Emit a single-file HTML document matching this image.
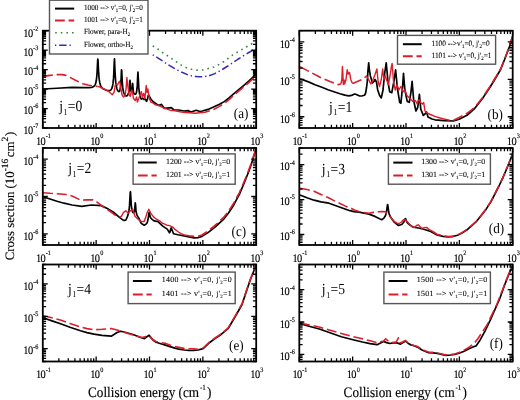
<!DOCTYPE html>
<html><head><meta charset="utf-8"><title>Cross sections</title><style>
html,body{margin:0;padding:0;background:#fff;}
svg{display:block;filter:blur(0.3px);}
text{font-family:"Liberation Serif", serif;fill:#000;text-rendering:geometricPrecision;}
.tl,.xt,.yt{stroke:#000;stroke-width:0.15px;}
.lga,.lgb,.lgc,.lgd,.lge,.lgf{stroke:#000;stroke-width:0.08px;}
.txt{opacity:0.995;}
.tl{font-size:10.4px;letter-spacing:-0.6px;}
.sp{font-size:6.2px;letter-spacing:0;}
.lga{font-size:7.2px;}
.lgb{font-size:7.4px;}
.lgc,.lgd,.lge,.lgf{font-size:7.9px;}
.sb{font-size:4.9px;}
.jl{font-size:13.6px;}
.jsb{font-size:8px;}
.tg{font-size:13.2px;}
.xt{font-size:13.2px;}
.yt{font-size:12.8px;}
.xsp{font-size:7px;}
.ysp{font-size:9.5px;}
</style></head><body>
<svg width="520" height="400" viewBox="0 0 520 400">
<rect width="520" height="400" fill="#fff"/>
<g opacity="0.995">
<clipPath id="cpa"><rect x="42.8" y="30.7" width="213.4" height="97.3"/></clipPath>
<clipPath id="cpb"><rect x="299.3" y="30.7" width="213.4" height="97.3"/></clipPath>
<clipPath id="cpc"><rect x="42.8" y="148" width="213.4" height="97"/></clipPath>
<clipPath id="cpd"><rect x="299.3" y="148" width="213.4" height="97"/></clipPath>
<clipPath id="cpe"><rect x="42.8" y="264.5" width="213.4" height="97"/></clipPath>
<clipPath id="cpf"><rect x="299.3" y="264.5" width="213.4" height="97"/></clipPath>
<g clip-path="url(#cpa)">
<path d="M152.7 45.9 L157.7 49 L162.4 52.4 L167.1 55.5 L172 58.8 L176.6 62 L181.2 65.1 L186 67.6 L191.3 69.3 L196.5 70.2 L202 70 L208 68.6 L214 67 L219.4 64.3 L224 61.5 L230.7 56.3 L236 53 L242 49.5 L248 46 L253.4 42.7 L256 41.3" stroke="#35853f" stroke-width="1.6" fill="none" stroke-linejoin="round" stroke-dasharray="1.6,4.0"/>
<path d="M152.7 54.8 L157.7 57.8 L162.7 61.1 L168 64.6 L175.5 69 L182 72.3 L188.4 75.1 L194 76.4 L200 76.8 L208 76.2 L214.8 73.6 L220.5 70.6 L226.2 67 L231.9 63.3 L237.5 59.5 L243 56 L248.8 52.5 L256 48.6" stroke="#3428b8" stroke-width="1.5" fill="none" stroke-linejoin="round" stroke-dasharray="1.3,2.9,7.4,2.9"/>
<path d="M43 88.98 L57 88.27 L72 87.34 L83 87.67 L88.5 87.65 L91.5 87.33 L92.5 87.07 L93.5 86.65 L94 86.32 L94.5 85.83 L95.25 84.59 L95.75 83.15 L96.25 80.8 L96.75 76.77 L97 73.7 L97.75 58.98 L98 59.76 L98.5 70.52 L99 77.41 L99.25 79.64 L99.75 82.7 L100.5 85.34 L101 86.42 L101.75 87.52 L102.75 88.46 L103.75 89.08 L105.75 89.95 L107.5 90.47 L109 90.64 L110 90.48 L110.5 90.21 L111 89.78 L111.75 88.63 L112.5 86.31 L113 83.44 L113.5 78.38 L113.75 74.45 L114.25 62 L114.5 58.85 L115 71.38 L115.5 79.59 L115.75 82.17 L116.25 85.75 L117 88.93 L117.5 90.27 L117.75 90.7 L118.25 91.29 L118.75 91.55 L119.25 91.44 L119.5 91.11 L120 89.69 L120.5 86.86 L120.75 84.52 L121 80.93 L121.5 69.79 L121.75 70.73 L122.25 81.94 L122.75 87.82 L123.25 90.81 L123.75 92.7 L124.5 94.55 L125 95.45 L125.25 95.62 L126.25 95.96 L126.75 95.98 L127 95.85 L128 94.4 L128.75 92.51 L129 91.34 L129.25 89.38 L129.75 81.13 L130 80.3 L130.5 88.4 L130.75 90.2 L131 91.04 L131.25 91.5 L131.5 91.55 L131.75 91.12 L132 89.92 L132.5 83.33 L132.75 84.08 L133.25 90.8 L133.5 92.19 L133.75 93 L134.25 93.83 L134.75 94.17 L135 94.22 L135.5 94.12 L136 93.58 L136.5 92.16 L137 88.73 L137.25 85.64 L137.75 74.9 L138 72.2 L138.75 87.16 L139.25 91.84 L140 96.27 L140.75 98.13 L141.25 98.96 L141.5 99.12 L142.75 98.06 L144 99.57 L145.25 98.96 L146.5 101.29 L146.75 101.06 L147.5 98.92 L148.25 95.51 L148.5 94.97 L151 99.23 L153.25 101.74 L158 105.18 L159.75 105.21 L161.5 104.37 L164.25 108.26 L164.5 108.46 L171.25 107.58 L173.75 109.74 L178.75 109.98 L184 110.99 L188 110.62 L191 112.01 L196.25 110.28 L200 111.46 L202.25 111.03 L208 109.41 L219 104.56 L224.25 101.63 L229 97.98 L234.5 93.11 L244.75 84.56 L249 80.8 L253 77.09 L256 73.6" stroke="#000" stroke-width="1.7" fill="none" stroke-linejoin="round"/>
<path d="M43 76.6 L48 75.6 L53 74.9 L58 74.5 L62 74.6 L66 75.4 L70 77.4 L75 80 L79.5 82.2 L83 83.7 L88 85 L93.8 86 L97.5 86.4" stroke="#dc1c2a" stroke-width="1.6" fill="none" stroke-linejoin="round" stroke-dasharray="10,3.8"/>
<path d="M97.5 86.4 L100 87 L103 88.5 L106 90 L109 91.5 L110 92.8 L112.25 94.75 L114.1 92.1 L115.25 85 L116.4 83.9 L117.5 85 L118.6 82.75 L119.4 81.25 L120.1 83.5 L120.9 88.75 L122 94.75 L123.5 97 L125 95.5 L126.1 88.75 L126.9 77.5 L127.6 85 L128.4 89.5 L129.1 94.75 L130.25 96.25 L131.75 90 L132.9 94.75 L133.5 98.6 L135.25 100.4 L136.6 96.9 L137.4 102.1 L138.75 98.6 L140 95.1 L141.4 91.6 L142.25 96.9 L143.6 93.4 L144.9 98.6 L146.2 85.5 L147.1 92.5 L147.9 89 L148.8 95.1 L149.7 99.5 L151 102.1 L152.75 103 L155 104.5 L160 106.2 L164 108.2 L167 109.2 L170 110.2 L175 110.8 L180 111.7 L185 112.6 L190 112.8 L195 113.2 L200 112.8" stroke="#dc1c2a" stroke-width="1.4" fill="none" stroke-linejoin="round"/>
<path d="M200 112.8 L205 112.2 L210 110.7 L214 109.2 L219 106.6 L224 103.6 L229 99.6 L234 95 L239 90.8 L244.6 86.2 L249 82.3 L253 78.6 L256 75.4" stroke="#dc1c2a" stroke-width="1.6" fill="none" stroke-linejoin="round" stroke-dasharray="10,3.8"/>
</g>
<g clip-path="url(#cpb)">
<path d="M300 78.8 L308.5 81.9 L315 84.7 L321.9 87.3 L328 89.7 L335.4 92.2 L340 93.7 L344.8 95.1 L348.8 95.8 L351.5 95.4 L353.5 94.4 L354.9 94 L356.9 94.7 L359.6 96 L362.3 95.8 L364.5 95.2 L365.5 93.5 L366.5 88 L367.3 81.3 L368 70 L368.7 62.9 L369.4 70 L370.4 76 L372.5 83 L374 81.5 L375.1 79.5 L376.5 82 L377.7 90 L379.5 95.3 L381.3 97.9 L383 90 L384.8 72.5 L386.2 62.9 L387.1 72 L387.9 81.3 L389.7 91.8 L391.8 92.6 L393.9 81.3 L395.6 69.9 L396.5 79 L397.4 88.3 L399.7 102.3 L400.9 103.2 L402.6 86.5 L403.5 73.4 L404.2 82 L404.9 90 L407.2 101.4 L409.3 102.3 L411 91.8 L412.1 81.3 L412.9 91 L413.7 100.5 L415.9 111 L417.7 107.5 L419.4 94.4 L420.1 102 L420.8 109.3 L423.3 115.4 L425 114 L426.5 112 L428 117 L432 119 L435 119.8 L443.8 120.6 L453.5 121 L459.2 119.2 L467 115.3 L474.6 108.5 L482.3 98.8 L490 87.3 L495.8 77.7 L500.6 69.5 L505 58.5 L509.5 46.5 L511.7 39.5 L513.5 34" stroke="#000" stroke-width="1.7" fill="none" stroke-linejoin="round"/>
<path d="M300 66.8 L305 69.4 L311 72.5 L320 77.3 L330 81.6 L338 84.6 L340.8 84" stroke="#dc1c2a" stroke-width="1.6" fill="none" stroke-linejoin="round" stroke-dasharray="10,3.8"/>
<path d="M340.8 84 L341.8 80 L342.4 66.5 L342.9 74 L343.3 84.5 L344.1 80 L344.6 84 L345.9 80 L347.2 69.8 L348.2 74 L349.5 72.5 L350.9 80 L352.2 83" stroke="#dc1c2a" stroke-width="1.4" fill="none" stroke-linejoin="round"/>
<path d="M352.2 83 L353.5 83.3 L356.2 81.9 L359.6 80.6 L362 79.5 L364.6 77.8" stroke="#dc1c2a" stroke-width="1.6" fill="none" stroke-linejoin="round" stroke-dasharray="10,3.8"/>
<path d="M364.6 77.8 L366.4 76 L368.1 78.6 L370.8 83.9 L372.5 81.3 L375.1 74.3 L376.9 69 L378.1 81.3 L379.5 86.5 L381.3 79.5 L382.7 69 L383.9 79.5 L385.1 76 L386.5 79.5 L388.3 84.8 L390 76 L391.2 68 L392.1 63.4 L392.8 72 L393.5 81.3 L395.3 90 L397 84.8 L398.8 90 L400.9 86.5 L403.2 91.8 L404.9 90 L406.7 95.3 L408.4 97 L410.2 98.8 L412.8 101.4 L415.4 100.5 L417.2 104 L418.5 100 L419.8 100.5 L421 103 L422.4 104 L423.7 102.5 L424.2 105.8 L425 111 L426.8 112.8 L430.3 114.5 L435 116.3 L440 118" stroke="#dc1c2a" stroke-width="1.4" fill="none" stroke-linejoin="round"/>
<path d="M440 118 L443.8 119 L449.6 120.2 L453.5 120.3 L459.2 117.5 L467 113.3 L474.6 107.5 L482.3 98 L490 86.5 L495.8 77 L500.6 69 L505 58 L509.5 46 L511.7 39 L513.5 33.5" stroke="#dc1c2a" stroke-width="1.6" fill="none" stroke-linejoin="round" stroke-dasharray="10,3.8"/>
</g>
<g clip-path="url(#cpc)">
<path d="M43 196.7 L57 201.2 L64 203.2 L72 205 L81.75 206.29 L91.5 204.99 L101.25 205.61 L107.25 208.45 L113.5 212.25 L119.75 217.66 L123.5 220.36 L124 220.33 L125.75 220.06 L126.5 218.63 L127.5 216.31 L128 214.86 L128.5 212.99 L129 210.39 L129.5 205.88 L130.25 192.35 L130.5 191.74 L131.25 204.73 L131.75 209.01 L132.25 211.07 L132.75 212.14 L133.25 212.65 L133.5 212.73 L133.75 212.66 L134 212.39 L134.25 211.83 L134.5 210.74 L134.75 208.76 L135.25 202.92 L135.5 204.36 L136 210.68 L136.25 212.37 L136.75 214.32 L137.25 215.59 L138 216.96 L138.75 218.09 L141.25 223.36 L142.25 224.06 L144.25 225.26 L146 224.09 L147 223.02 L147.5 221.53 L148 219.53 L149 212.9 L149.25 212.26 L150.25 216.89 L150.75 217.96 L151.75 219.02 L152.75 219.92 L154.25 220.94 L158 221.67 L158.25 221.83 L162.75 226.16 L167.25 229.11 L169.5 232.87 L169.75 232.53 L171 228.33 L171.25 227.79 L173.5 233.75 L178 234.76 L194 237.94 L198 237.58 L202 236.38 L208 232.59 L213.75 228.13 L218.5 223.99 L223.75 219.1 L228.5 213 L233.25 205.83 L236.5 199.6 L239.25 194.69 L243.5 184.65 L248.75 171.48 L251 165.2 L256 149.1" stroke="#000" stroke-width="1.7" fill="none" stroke-linejoin="round"/>
<path d="M43 192.7 L50 193.3 L57 193.7 L66 194.5 L72 196 L77 198.4 L81 200.3 L87 199.7 L93 199.9 L97.3 202.3 L104.2 207.7 L110.4 211.5 L116.5 216.2 L121.2 216.9" stroke="#dc1c2a" stroke-width="1.6" fill="none" stroke-linejoin="round" stroke-dasharray="10,3.8"/>
<path d="M121.2 216.9 L123.5 212.3 L125.8 210.8 L128.1 213.1 L130.4 210.8 L132.7 209.2 L135 216.2 L138.1 219.2 L141.2 221.5 L144.2 221.5 L145.8 216.9 L147.3 212.3 L148.8 209.2 L150.7 213.1 L153.5 216.9 L156.5 219.2 L159.6 220.8 L162 223 L164.2 223.8 L166.8 225.2 L168.8 225.4 L170.7 226.2 L173.5 227.7 L174.6 229.1 L178.5 232 L181 233.6 L184.4 235" stroke="#dc1c2a" stroke-width="1.4" fill="none" stroke-linejoin="round"/>
<path d="M184.4 235 L189 235.8 L194.2 236.4 L198 236.2 L202 235 L208 231 L213.8 226.4 L218.5 222.2 L223.6 217.4 L228.5 211.2 L233.4 203.8 L236.5 198 L239.3 192.8 L243.4 183.4 L246 177 L248.9 169.6 L251 164 L253 157.8 L256 148.3" stroke="#dc1c2a" stroke-width="1.6" fill="none" stroke-linejoin="round" stroke-dasharray="10,3.8"/>
</g>
<g clip-path="url(#cpd)">
<path d="M300 195 L307 197.8 L314 200.2 L321 201.8 L329 203.2 L345 209 L350 210.69 L354 211.59 L359 212.19 L369 214.17 L375 216.42 L379.5 218.77 L381.75 219.73 L383.25 218.58 L384.25 217.6 L385 216.5 L385.5 215.45 L386 213.93 L386.5 211.67 L387.5 204.64 L387.75 204.78 L388.5 210.39 L389 213.21 L389.5 214.96 L390 216.09 L392 219.14 L394.5 222.39 L398.5 225.49 L401.5 224.54 L402.25 223.84 L403 223.02 L404 221.63 L405 219.17 L405.25 218.67 L405.5 218.62 L406.75 221.7 L407.75 223.15 L408.5 223.85 L410 225.02 L413 227.15 L418.5 228.03 L424.5 229.53 L430.75 231.55 L437 234.99 L443 236.38 L448 236.88 L452 236.68 L457.5 235.29 L462 232.99 L467 229.79 L476.5 221.3 L481 215.8 L486 209.4 L491 201.6 L499 186 L502.5 178.71 L508.5 164.53 L513.5 151.5" stroke="#000" stroke-width="1.7" fill="none" stroke-linejoin="round"/>
<path d="M300 188.2 L307 189.5 L314 191.2 L321 194.4 L329 198 L334 200.6 L339.5 203.2 L345 205.9 L351.5 208.5 L355 210.2 L359 211.5 L364 212.6 L369 213.3 L373.5 212.4 L378 211.7 L382 211.6 L385.5 211.7 L389.2 215.7" stroke="#dc1c2a" stroke-width="1.6" fill="none" stroke-linejoin="round" stroke-dasharray="10,3.8"/>
<path d="M389.2 215.7 L392 219 L394.5 221.7 L397 223.2 L399 223.5 L401.5 222 L403.5 219.8 L405.5 220 L408 222.5 L410 224.8 L412.5 227 L414.8 227.2 L416.5 225.5 L418.3 224.8 L420 226.5 L421.9 228.4 L424 227.6 L426.6 227.4 L429 229.4 L432 231" stroke="#dc1c2a" stroke-width="1.4" fill="none" stroke-linejoin="round"/>
<path d="M432 231 L436.9 234.2 L443 235.9 L448 236.5 L452 236.4 L457.5 234.9 L462 232.7 L467 229.4 L471.5 225.5 L476.5 221 L481 215.5 L486 209 L491 201.2 L495.5 192.4 L499 185.6 L502.6 178 L505.5 171 L508.6 164 L511 157.5 L513.5 151" stroke="#dc1c2a" stroke-width="1.6" fill="none" stroke-linejoin="round" stroke-dasharray="10,3.8"/>
</g>
<g clip-path="url(#cpe)">
<path d="M43 317.7 L52 320.9 L61.2 324 L70 327.3 L80.5 330.8 L87 332.6 L94 334.2 L102 335.3 L111.2 336.2 L114 334.5 L117 332.5 L120.8 331.2 L125 332.3 L130.5 333.7 L135 335.2 L140 337.2 L144.4 338.7 L146.5 337 L149.1 335.2 L151 337.6 L153 340 L156.1 342.3 L160 343.5 L165.5 345.1 L170 346.6 L174.9 348.1 L179 349.2 L184.3 350 L189 350.4 L193.7 350.5 L198 350 L203.1 348.6 L210 342.2 L215 338.6 L220 335.3 L225 331.2 L228 328.7 L232 322 L237 313.5 L242 304.5 L244.5 297 L247 289.5 L250 280.75 L252.3 274.8 L254.4 269.5 L256 265" stroke="#000" stroke-width="1.7" fill="none" stroke-linejoin="round"/>
<path d="M43 315.8 L52 317.8 L61.2 320.2 L70 323.4 L80.5 327 L87 328.6 L94 329.8 L102 329.3 L111.2 328.5 L116 329.7 L120.8 331.2 L125.5 332.7 L130.5 334.2 L136 335.8 L142 337.5 L146 336.6 L149 336 L152 339 L156 341.5 L160 342.4 L165.5 343.4 L170 345 L174.9 346.5 L180 347.6 L184 348.4 L189 348.7 L193.7 348.9 L198 349.4 L203.1 348 L210 341.6 L215 338 L220 334.7 L225 330.6 L228 328.1 L232 321.4 L237 312.9 L242 303.9 L244.5 296.4 L247 288.9 L250 280.15 L252.3 274.2 L254.4 268.9 L256 264.4" stroke="#dc1c2a" stroke-width="1.6" fill="none" stroke-linejoin="round" stroke-dasharray="10,3.8"/>
</g>
<g clip-path="url(#cpf)">
<path d="M300 323.6 L310 326.5 L320.1 329.3 L330 332.8 L341.3 336.7 L352 339.5 L362.4 342 L370 343.6 L377.2 344.7 L380.5 343 L383.6 341.4 L386.5 342.6 L389.9 343.5 L393 342.8 L396.3 342.6 L400.5 344.1 L403 342.5 L405.5 341.2 L408 343.2 L411 345 L414 345.8 L417.5 347.1 L422 350 L425 351.3 L428.5 352.6 L433 352.8 L437.3 353.3 L441.5 354.3 L446 355.3 L450.5 355 L454.8 354.4 L459 353.2 L463.6 351.5 L469 348.8 L474.6 346.3 L476 346 L480 340.2 L485 331.2 L490 320.7 L495 309.4 L500 298 L503.8 287.2 L506.25 280.75 L508.5 275.2 L510.6 270.1 L513.5 264" stroke="#000" stroke-width="1.7" fill="none" stroke-linejoin="round"/>
<path d="M300 323 L310 325 L320 327.2 L330 330.2 L341.3 333.5 L352 336.4 L362.4 338.8 L370 340.8 L377.2 342.6 L380.5 341.8 L383.6 341 L385.7 338.8 L388 340.8 L391 342.5 L394 342.2 L396.3 342 L398.4 337.8 L400.5 343 L403 341.8 L405.5 340.5 L408 342.8 L411 344.5 L414 345.5 L417.5 346.5 L422 349.5 L425 350.8 L428.5 352 L433 352.4 L437.3 353 L441.5 354 L446 355 L450.5 354.7 L454.8 354 L459 352.5 L463.6 350.5 L470 346.7 L475 342.2 L478 338.5 L482 332.5 L487 325 L492 314.5 L497 304 L501.25 293 L503.8 286.5 L506.25 280 L508.5 274.6 L510.6 269.5 L513.5 263.5" stroke="#dc1c2a" stroke-width="1.6" fill="none" stroke-linejoin="round" stroke-dasharray="10,3.8"/>
</g>
<path d="M42.8 128v-5M42.8 30.7v5M58.86 128v-3.3M58.86 30.7v3.3M68.25 128v-3.3M68.25 30.7v3.3M74.92 128v-3.3M74.92 30.7v3.3M80.09 128v-3.3M80.09 30.7v3.3M84.31 128v-3.3M84.31 30.7v3.3M87.89 128v-3.3M87.89 30.7v3.3M90.98 128v-3.3M90.98 30.7v3.3M93.71 128v-3.3M93.71 30.7v3.3M96.15 128v-5M96.15 30.7v5M112.21 128v-3.3M112.21 30.7v3.3M121.6 128v-3.3M121.6 30.7v3.3M128.27 128v-3.3M128.27 30.7v3.3M133.44 128v-3.3M133.44 30.7v3.3M137.66 128v-3.3M137.66 30.7v3.3M141.24 128v-3.3M141.24 30.7v3.3M144.33 128v-3.3M144.33 30.7v3.3M147.06 128v-3.3M147.06 30.7v3.3M149.5 128v-5M149.5 30.7v5M165.56 128v-3.3M165.56 30.7v3.3M174.95 128v-3.3M174.95 30.7v3.3M181.62 128v-3.3M181.62 30.7v3.3M186.79 128v-3.3M186.79 30.7v3.3M191.01 128v-3.3M191.01 30.7v3.3M194.59 128v-3.3M194.59 30.7v3.3M197.68 128v-3.3M197.68 30.7v3.3M200.41 128v-3.3M200.41 30.7v3.3M202.85 128v-5M202.85 30.7v5M218.91 128v-3.3M218.91 30.7v3.3M228.3 128v-3.3M228.3 30.7v3.3M234.97 128v-3.3M234.97 30.7v3.3M240.14 128v-3.3M240.14 30.7v3.3M244.36 128v-3.3M244.36 30.7v3.3M247.94 128v-3.3M247.94 30.7v3.3M251.03 128v-3.3M251.03 30.7v3.3M253.76 128v-3.3M253.76 30.7v3.3M256.2 128v-5M256.2 30.7v5M42.8 128h5M256.2 128h-5M42.8 122.14h3.3M256.2 122.14h-3.3M42.8 118.72h3.3M256.2 118.72h-3.3M42.8 116.28h3.3M256.2 116.28h-3.3M42.8 114.4h3.3M256.2 114.4h-3.3M42.8 112.86h3.3M256.2 112.86h-3.3M42.8 111.55h3.3M256.2 111.55h-3.3M42.8 110.43h3.3M256.2 110.43h-3.3M42.8 109.43h3.3M256.2 109.43h-3.3M42.8 108.54h5M256.2 108.54h-5M42.8 102.68h3.3M256.2 102.68h-3.3M42.8 99.26h3.3M256.2 99.26h-3.3M42.8 96.82h3.3M256.2 96.82h-3.3M42.8 94.94h3.3M256.2 94.94h-3.3M42.8 93.4h3.3M256.2 93.4h-3.3M42.8 92.09h3.3M256.2 92.09h-3.3M42.8 90.97h3.3M256.2 90.97h-3.3M42.8 89.97h3.3M256.2 89.97h-3.3M42.8 89.08h5M256.2 89.08h-5M42.8 83.22h3.3M256.2 83.22h-3.3M42.8 79.8h3.3M256.2 79.8h-3.3M42.8 77.36h3.3M256.2 77.36h-3.3M42.8 75.48h3.3M256.2 75.48h-3.3M42.8 73.94h3.3M256.2 73.94h-3.3M42.8 72.63h3.3M256.2 72.63h-3.3M42.8 71.51h3.3M256.2 71.51h-3.3M42.8 70.51h3.3M256.2 70.51h-3.3M42.8 69.62h5M256.2 69.62h-5M42.8 63.76h3.3M256.2 63.76h-3.3M42.8 60.34h3.3M256.2 60.34h-3.3M42.8 57.9h3.3M256.2 57.9h-3.3M42.8 56.02h3.3M256.2 56.02h-3.3M42.8 54.48h3.3M256.2 54.48h-3.3M42.8 53.17h3.3M256.2 53.17h-3.3M42.8 52.05h3.3M256.2 52.05h-3.3M42.8 51.05h3.3M256.2 51.05h-3.3M42.8 50.16h5M256.2 50.16h-5M42.8 44.3h3.3M256.2 44.3h-3.3M42.8 40.88h3.3M256.2 40.88h-3.3M42.8 38.44h3.3M256.2 38.44h-3.3M42.8 36.56h3.3M256.2 36.56h-3.3M42.8 35.02h3.3M256.2 35.02h-3.3M42.8 33.71h3.3M256.2 33.71h-3.3M42.8 32.59h3.3M256.2 32.59h-3.3M42.8 31.59h3.3M256.2 31.59h-3.3M42.8 30.7h5M256.2 30.7h-5" stroke="#000" stroke-width="1.3" fill="none"/>
<rect x="42.8" y="30.7" width="213.4" height="97.3" fill="none" stroke="#000" stroke-width="1.8"/>
<path d="M299.3 128v-5M299.3 30.7v5M315.36 128v-3.3M315.36 30.7v3.3M324.75 128v-3.3M324.75 30.7v3.3M331.42 128v-3.3M331.42 30.7v3.3M336.59 128v-3.3M336.59 30.7v3.3M340.81 128v-3.3M340.81 30.7v3.3M344.39 128v-3.3M344.39 30.7v3.3M347.48 128v-3.3M347.48 30.7v3.3M350.21 128v-3.3M350.21 30.7v3.3M352.65 128v-5M352.65 30.7v5M368.71 128v-3.3M368.71 30.7v3.3M378.1 128v-3.3M378.1 30.7v3.3M384.77 128v-3.3M384.77 30.7v3.3M389.94 128v-3.3M389.94 30.7v3.3M394.16 128v-3.3M394.16 30.7v3.3M397.74 128v-3.3M397.74 30.7v3.3M400.83 128v-3.3M400.83 30.7v3.3M403.56 128v-3.3M403.56 30.7v3.3M406 128v-5M406 30.7v5M422.06 128v-3.3M422.06 30.7v3.3M431.45 128v-3.3M431.45 30.7v3.3M438.12 128v-3.3M438.12 30.7v3.3M443.29 128v-3.3M443.29 30.7v3.3M447.51 128v-3.3M447.51 30.7v3.3M451.09 128v-3.3M451.09 30.7v3.3M454.18 128v-3.3M454.18 30.7v3.3M456.91 128v-3.3M456.91 30.7v3.3M459.35 128v-5M459.35 30.7v5M475.41 128v-3.3M475.41 30.7v3.3M484.8 128v-3.3M484.8 30.7v3.3M491.47 128v-3.3M491.47 30.7v3.3M496.64 128v-3.3M496.64 30.7v3.3M500.86 128v-3.3M500.86 30.7v3.3M504.44 128v-3.3M504.44 30.7v3.3M507.53 128v-3.3M507.53 30.7v3.3M510.26 128v-3.3M510.26 30.7v3.3M512.7 128v-5M512.7 30.7v5M299.3 128h3.3M512.7 128h-3.3M299.3 125.04h3.3M512.7 125.04h-3.3M299.3 122.54h3.3M512.7 122.54h-3.3M299.3 120.37h3.3M512.7 120.37h-3.3M299.3 118.45h3.3M512.7 118.45h-3.3M299.3 116.74h5M512.7 116.74h-5M299.3 105.49h3.3M512.7 105.49h-3.3M299.3 98.9h3.3M512.7 98.9h-3.3M299.3 94.23h3.3M512.7 94.23h-3.3M299.3 90.61h3.3M512.7 90.61h-3.3M299.3 87.65h3.3M512.7 87.65h-3.3M299.3 85.14h3.3M512.7 85.14h-3.3M299.3 82.97h3.3M512.7 82.97h-3.3M299.3 81.06h3.3M512.7 81.06h-3.3M299.3 79.35h5M512.7 79.35h-5M299.3 68.09h3.3M512.7 68.09h-3.3M299.3 61.51h3.3M512.7 61.51h-3.3M299.3 56.84h3.3M512.7 56.84h-3.3M299.3 53.21h3.3M512.7 53.21h-3.3M299.3 50.25h3.3M512.7 50.25h-3.3M299.3 47.75h3.3M512.7 47.75h-3.3M299.3 45.58h3.3M512.7 45.58h-3.3M299.3 43.67h3.3M512.7 43.67h-3.3M299.3 41.96h5M512.7 41.96h-5M299.3 30.7h3.3M512.7 30.7h-3.3" stroke="#000" stroke-width="1.3" fill="none"/>
<rect x="299.3" y="30.7" width="213.4" height="97.3" fill="none" stroke="#000" stroke-width="1.8"/>
<path d="M42.8 245v-5M42.8 148v5M58.86 245v-3.3M58.86 148v3.3M68.25 245v-3.3M68.25 148v3.3M74.92 245v-3.3M74.92 148v3.3M80.09 245v-3.3M80.09 148v3.3M84.31 245v-3.3M84.31 148v3.3M87.89 245v-3.3M87.89 148v3.3M90.98 245v-3.3M90.98 148v3.3M93.71 245v-3.3M93.71 148v3.3M96.15 245v-5M96.15 148v5M112.21 245v-3.3M112.21 148v3.3M121.6 245v-3.3M121.6 148v3.3M128.27 245v-3.3M128.27 148v3.3M133.44 245v-3.3M133.44 148v3.3M137.66 245v-3.3M137.66 148v3.3M141.24 245v-3.3M141.24 148v3.3M144.33 245v-3.3M144.33 148v3.3M147.06 245v-3.3M147.06 148v3.3M149.5 245v-5M149.5 148v5M165.56 245v-3.3M165.56 148v3.3M174.95 245v-3.3M174.95 148v3.3M181.62 245v-3.3M181.62 148v3.3M186.79 245v-3.3M186.79 148v3.3M191.01 245v-3.3M191.01 148v3.3M194.59 245v-3.3M194.59 148v3.3M197.68 245v-3.3M197.68 148v3.3M200.41 245v-3.3M200.41 148v3.3M202.85 245v-5M202.85 148v5M218.91 245v-3.3M218.91 148v3.3M228.3 245v-3.3M228.3 148v3.3M234.97 245v-3.3M234.97 148v3.3M240.14 245v-3.3M240.14 148v3.3M244.36 245v-3.3M244.36 148v3.3M247.94 245v-3.3M247.94 148v3.3M251.03 245v-3.3M251.03 148v3.3M253.76 245v-3.3M253.76 148v3.3M256.2 245v-5M256.2 148v5M42.8 245h3.3M256.2 245h-3.3M42.8 242.05h3.3M256.2 242.05h-3.3M42.8 239.55h3.3M256.2 239.55h-3.3M42.8 237.39h3.3M256.2 237.39h-3.3M42.8 235.48h3.3M256.2 235.48h-3.3M42.8 233.78h5M256.2 233.78h-5M42.8 222.56h3.3M256.2 222.56h-3.3M42.8 215.99h3.3M256.2 215.99h-3.3M42.8 211.33h3.3M256.2 211.33h-3.3M42.8 207.72h3.3M256.2 207.72h-3.3M42.8 204.77h3.3M256.2 204.77h-3.3M42.8 202.27h3.3M256.2 202.27h-3.3M42.8 200.11h3.3M256.2 200.11h-3.3M42.8 198.21h3.3M256.2 198.21h-3.3M42.8 196.5h5M256.2 196.5h-5M42.8 185.28h3.3M256.2 185.28h-3.3M42.8 178.71h3.3M256.2 178.71h-3.3M42.8 174.06h3.3M256.2 174.06h-3.3M42.8 170.44h3.3M256.2 170.44h-3.3M42.8 167.49h3.3M256.2 167.49h-3.3M42.8 165h3.3M256.2 165h-3.3M42.8 162.83h3.3M256.2 162.83h-3.3M42.8 160.93h3.3M256.2 160.93h-3.3M42.8 159.22h5M256.2 159.22h-5M42.8 148h3.3M256.2 148h-3.3" stroke="#000" stroke-width="1.3" fill="none"/>
<rect x="42.8" y="148" width="213.4" height="97" fill="none" stroke="#000" stroke-width="1.8"/>
<path d="M299.3 245v-5M299.3 148v5M315.36 245v-3.3M315.36 148v3.3M324.75 245v-3.3M324.75 148v3.3M331.42 245v-3.3M331.42 148v3.3M336.59 245v-3.3M336.59 148v3.3M340.81 245v-3.3M340.81 148v3.3M344.39 245v-3.3M344.39 148v3.3M347.48 245v-3.3M347.48 148v3.3M350.21 245v-3.3M350.21 148v3.3M352.65 245v-5M352.65 148v5M368.71 245v-3.3M368.71 148v3.3M378.1 245v-3.3M378.1 148v3.3M384.77 245v-3.3M384.77 148v3.3M389.94 245v-3.3M389.94 148v3.3M394.16 245v-3.3M394.16 148v3.3M397.74 245v-3.3M397.74 148v3.3M400.83 245v-3.3M400.83 148v3.3M403.56 245v-3.3M403.56 148v3.3M406 245v-5M406 148v5M422.06 245v-3.3M422.06 148v3.3M431.45 245v-3.3M431.45 148v3.3M438.12 245v-3.3M438.12 148v3.3M443.29 245v-3.3M443.29 148v3.3M447.51 245v-3.3M447.51 148v3.3M451.09 245v-3.3M451.09 148v3.3M454.18 245v-3.3M454.18 148v3.3M456.91 245v-3.3M456.91 148v3.3M459.35 245v-5M459.35 148v5M475.41 245v-3.3M475.41 148v3.3M484.8 245v-3.3M484.8 148v3.3M491.47 245v-3.3M491.47 148v3.3M496.64 245v-3.3M496.64 148v3.3M500.86 245v-3.3M500.86 148v3.3M504.44 245v-3.3M504.44 148v3.3M507.53 245v-3.3M507.53 148v3.3M510.26 245v-3.3M510.26 148v3.3M512.7 245v-5M512.7 148v5M299.3 245h3.3M512.7 245h-3.3M299.3 242.24h3.3M512.7 242.24h-3.3M299.3 239.9h3.3M512.7 239.9h-3.3M299.3 237.87h3.3M512.7 237.87h-3.3M299.3 236.09h3.3M512.7 236.09h-3.3M299.3 234.49h5M512.7 234.49h-5M299.3 223.98h3.3M512.7 223.98h-3.3M299.3 217.83h3.3M512.7 217.83h-3.3M299.3 213.47h3.3M512.7 213.47h-3.3M299.3 210.08h3.3M512.7 210.08h-3.3M299.3 207.32h3.3M512.7 207.32h-3.3M299.3 204.98h3.3M512.7 204.98h-3.3M299.3 202.96h3.3M512.7 202.96h-3.3M299.3 201.17h3.3M512.7 201.17h-3.3M299.3 199.57h5M512.7 199.57h-5M299.3 189.06h3.3M512.7 189.06h-3.3M299.3 182.92h3.3M512.7 182.92h-3.3M299.3 178.55h3.3M512.7 178.55h-3.3M299.3 175.17h3.3M512.7 175.17h-3.3M299.3 172.4h3.3M512.7 172.4h-3.3M299.3 170.07h3.3M512.7 170.07h-3.3M299.3 168.04h3.3M512.7 168.04h-3.3M299.3 166.26h3.3M512.7 166.26h-3.3M299.3 164.66h5M512.7 164.66h-5M299.3 154.15h3.3M512.7 154.15h-3.3M299.3 148h3.3M512.7 148h-3.3" stroke="#000" stroke-width="1.3" fill="none"/>
<rect x="299.3" y="148" width="213.4" height="97" fill="none" stroke="#000" stroke-width="1.8"/>
<path d="M42.8 361.5v-5M42.8 264.5v5M58.86 361.5v-3.3M58.86 264.5v3.3M68.25 361.5v-3.3M68.25 264.5v3.3M74.92 361.5v-3.3M74.92 264.5v3.3M80.09 361.5v-3.3M80.09 264.5v3.3M84.31 361.5v-3.3M84.31 264.5v3.3M87.89 361.5v-3.3M87.89 264.5v3.3M90.98 361.5v-3.3M90.98 264.5v3.3M93.71 361.5v-3.3M93.71 264.5v3.3M96.15 361.5v-5M96.15 264.5v5M112.21 361.5v-3.3M112.21 264.5v3.3M121.6 361.5v-3.3M121.6 264.5v3.3M128.27 361.5v-3.3M128.27 264.5v3.3M133.44 361.5v-3.3M133.44 264.5v3.3M137.66 361.5v-3.3M137.66 264.5v3.3M141.24 361.5v-3.3M141.24 264.5v3.3M144.33 361.5v-3.3M144.33 264.5v3.3M147.06 361.5v-3.3M147.06 264.5v3.3M149.5 361.5v-5M149.5 264.5v5M165.56 361.5v-3.3M165.56 264.5v3.3M174.95 361.5v-3.3M174.95 264.5v3.3M181.62 361.5v-3.3M181.62 264.5v3.3M186.79 361.5v-3.3M186.79 264.5v3.3M191.01 361.5v-3.3M191.01 264.5v3.3M194.59 361.5v-3.3M194.59 264.5v3.3M197.68 361.5v-3.3M197.68 264.5v3.3M200.41 361.5v-3.3M200.41 264.5v3.3M202.85 361.5v-5M202.85 264.5v5M218.91 361.5v-3.3M218.91 264.5v3.3M228.3 361.5v-3.3M228.3 264.5v3.3M234.97 361.5v-3.3M234.97 264.5v3.3M240.14 361.5v-3.3M240.14 264.5v3.3M244.36 361.5v-3.3M244.36 264.5v3.3M247.94 361.5v-3.3M247.94 264.5v3.3M251.03 361.5v-3.3M251.03 264.5v3.3M253.76 361.5v-3.3M253.76 264.5v3.3M256.2 361.5v-5M256.2 264.5v5M42.8 361.5h3.3M256.2 361.5h-3.3M42.8 358.37h3.3M256.2 358.37h-3.3M42.8 355.81h3.3M256.2 355.81h-3.3M42.8 353.64h3.3M256.2 353.64h-3.3M42.8 351.77h3.3M256.2 351.77h-3.3M42.8 350.11h3.3M256.2 350.11h-3.3M42.8 348.63h5M256.2 348.63h-5M42.8 338.9h3.3M256.2 338.9h-3.3M42.8 333.21h3.3M256.2 333.21h-3.3M42.8 329.17h3.3M256.2 329.17h-3.3M42.8 326.03h3.3M256.2 326.03h-3.3M42.8 323.47h3.3M256.2 323.47h-3.3M42.8 321.31h3.3M256.2 321.31h-3.3M42.8 319.43h3.3M256.2 319.43h-3.3M42.8 317.78h3.3M256.2 317.78h-3.3M42.8 316.3h5M256.2 316.3h-5M42.8 306.57h3.3M256.2 306.57h-3.3M42.8 300.87h3.3M256.2 300.87h-3.3M42.8 296.83h3.3M256.2 296.83h-3.3M42.8 293.7h3.3M256.2 293.7h-3.3M42.8 291.14h3.3M256.2 291.14h-3.3M42.8 288.98h3.3M256.2 288.98h-3.3M42.8 287.1h3.3M256.2 287.1h-3.3M42.8 285.45h3.3M256.2 285.45h-3.3M42.8 283.97h5M256.2 283.97h-5M42.8 274.23h3.3M256.2 274.23h-3.3M42.8 268.54h3.3M256.2 268.54h-3.3M42.8 264.5h3.3M256.2 264.5h-3.3" stroke="#000" stroke-width="1.3" fill="none"/>
<rect x="42.8" y="264.5" width="213.4" height="97" fill="none" stroke="#000" stroke-width="1.8"/>
<path d="M299.3 361.5v-5M299.3 264.5v5M315.36 361.5v-3.3M315.36 264.5v3.3M324.75 361.5v-3.3M324.75 264.5v3.3M331.42 361.5v-3.3M331.42 264.5v3.3M336.59 361.5v-3.3M336.59 264.5v3.3M340.81 361.5v-3.3M340.81 264.5v3.3M344.39 361.5v-3.3M344.39 264.5v3.3M347.48 361.5v-3.3M347.48 264.5v3.3M350.21 361.5v-3.3M350.21 264.5v3.3M352.65 361.5v-5M352.65 264.5v5M368.71 361.5v-3.3M368.71 264.5v3.3M378.1 361.5v-3.3M378.1 264.5v3.3M384.77 361.5v-3.3M384.77 264.5v3.3M389.94 361.5v-3.3M389.94 264.5v3.3M394.16 361.5v-3.3M394.16 264.5v3.3M397.74 361.5v-3.3M397.74 264.5v3.3M400.83 361.5v-3.3M400.83 264.5v3.3M403.56 361.5v-3.3M403.56 264.5v3.3M406 361.5v-5M406 264.5v5M422.06 361.5v-3.3M422.06 264.5v3.3M431.45 361.5v-3.3M431.45 264.5v3.3M438.12 361.5v-3.3M438.12 264.5v3.3M443.29 361.5v-3.3M443.29 264.5v3.3M447.51 361.5v-3.3M447.51 264.5v3.3M451.09 361.5v-3.3M451.09 264.5v3.3M454.18 361.5v-3.3M454.18 264.5v3.3M456.91 361.5v-3.3M456.91 264.5v3.3M459.35 361.5v-5M459.35 264.5v5M475.41 361.5v-3.3M475.41 264.5v3.3M484.8 361.5v-3.3M484.8 264.5v3.3M491.47 361.5v-3.3M491.47 264.5v3.3M496.64 361.5v-3.3M496.64 264.5v3.3M500.86 361.5v-3.3M500.86 264.5v3.3M504.44 361.5v-3.3M504.44 264.5v3.3M507.53 361.5v-3.3M507.53 264.5v3.3M510.26 361.5v-3.3M510.26 264.5v3.3M512.7 361.5v-5M512.7 264.5v5M299.3 361.5h3.3M512.7 361.5h-3.3M299.3 359.34h3.3M512.7 359.34h-3.3M299.3 357.46h3.3M512.7 357.46h-3.3M299.3 355.81h3.3M512.7 355.81h-3.3M299.3 354.33h5M512.7 354.33h-5M299.3 344.59h3.3M512.7 344.59h-3.3M299.3 338.9h3.3M512.7 338.9h-3.3M299.3 334.86h3.3M512.7 334.86h-3.3M299.3 331.73h3.3M512.7 331.73h-3.3M299.3 329.17h3.3M512.7 329.17h-3.3M299.3 327h3.3M512.7 327h-3.3M299.3 325.13h3.3M512.7 325.13h-3.3M299.3 323.47h3.3M512.7 323.47h-3.3M299.3 321.99h5M512.7 321.99h-5M299.3 312.26h3.3M512.7 312.26h-3.3M299.3 306.57h3.3M512.7 306.57h-3.3M299.3 302.53h3.3M512.7 302.53h-3.3M299.3 299.39h3.3M512.7 299.39h-3.3M299.3 296.83h3.3M512.7 296.83h-3.3M299.3 294.67h3.3M512.7 294.67h-3.3M299.3 292.79h3.3M512.7 292.79h-3.3M299.3 291.14h3.3M512.7 291.14h-3.3M299.3 289.66h5M512.7 289.66h-5M299.3 279.93h3.3M512.7 279.93h-3.3M299.3 274.23h3.3M512.7 274.23h-3.3M299.3 270.19h3.3M512.7 270.19h-3.3M299.3 267.06h3.3M512.7 267.06h-3.3M299.3 264.5h3.3M512.7 264.5h-3.3" stroke="#000" stroke-width="1.3" fill="none"/>
<rect x="299.3" y="264.5" width="213.4" height="97" fill="none" stroke="#000" stroke-width="1.8"/>
<text transform="translate(38.4 133.8) scale(1 1.1)" class="tl" text-anchor="end">10<tspan class="sp" dx="0.7" dy="-5.36">-7</tspan></text>
<text transform="translate(38.4 114.34) scale(1 1.1)" class="tl" text-anchor="end">10<tspan class="sp" dx="0.7" dy="-5.36">-6</tspan></text>
<text transform="translate(38.4 94.88) scale(1 1.1)" class="tl" text-anchor="end">10<tspan class="sp" dx="0.7" dy="-5.36">-5</tspan></text>
<text transform="translate(38.4 75.42) scale(1 1.1)" class="tl" text-anchor="end">10<tspan class="sp" dx="0.7" dy="-5.36">-4</tspan></text>
<text transform="translate(38.4 55.96) scale(1 1.1)" class="tl" text-anchor="end">10<tspan class="sp" dx="0.7" dy="-5.36">-3</tspan></text>
<text transform="translate(38.4 36.5) scale(1 1.1)" class="tl" text-anchor="end">10<tspan class="sp" dx="0.7" dy="-5.36">-2</tspan></text>
<text transform="translate(43.4 144.6) scale(1 1.1)" class="tl" text-anchor="middle">10<tspan class="sp" dx="0.7" dy="-6">-1</tspan></text>
<text transform="translate(96.75 144.6) scale(1 1.1)" class="tl" text-anchor="middle">10<tspan class="sp" dx="0.7" dy="-6">0</tspan></text>
<text transform="translate(150.1 144.6) scale(1 1.1)" class="tl" text-anchor="middle">10<tspan class="sp" dx="0.7" dy="-6">1</tspan></text>
<text transform="translate(203.45 144.6) scale(1 1.1)" class="tl" text-anchor="middle">10<tspan class="sp" dx="0.7" dy="-6">2</tspan></text>
<text transform="translate(256.8 144.6) scale(1 1.1)" class="tl" text-anchor="middle">10<tspan class="sp" dx="0.7" dy="-6">3</tspan></text>
<text transform="translate(294.9 122.54) scale(1 1.1)" class="tl" text-anchor="end">10<tspan class="sp" dx="0.7" dy="-5.36">-6</tspan></text>
<text transform="translate(294.9 85.15) scale(1 1.1)" class="tl" text-anchor="end">10<tspan class="sp" dx="0.7" dy="-5.36">-5</tspan></text>
<text transform="translate(294.9 47.76) scale(1 1.1)" class="tl" text-anchor="end">10<tspan class="sp" dx="0.7" dy="-5.36">-4</tspan></text>
<text transform="translate(299.9 144.6) scale(1 1.1)" class="tl" text-anchor="middle">10<tspan class="sp" dx="0.7" dy="-6">-1</tspan></text>
<text transform="translate(353.25 144.6) scale(1 1.1)" class="tl" text-anchor="middle">10<tspan class="sp" dx="0.7" dy="-6">0</tspan></text>
<text transform="translate(406.6 144.6) scale(1 1.1)" class="tl" text-anchor="middle">10<tspan class="sp" dx="0.7" dy="-6">1</tspan></text>
<text transform="translate(459.95 144.6) scale(1 1.1)" class="tl" text-anchor="middle">10<tspan class="sp" dx="0.7" dy="-6">2</tspan></text>
<text transform="translate(513.3 144.6) scale(1 1.1)" class="tl" text-anchor="middle">10<tspan class="sp" dx="0.7" dy="-6">3</tspan></text>
<text transform="translate(38.4 239.58) scale(1 1.1)" class="tl" text-anchor="end">10<tspan class="sp" dx="0.7" dy="-5.36">-6</tspan></text>
<text transform="translate(38.4 202.3) scale(1 1.1)" class="tl" text-anchor="end">10<tspan class="sp" dx="0.7" dy="-5.36">-5</tspan></text>
<text transform="translate(38.4 165.02) scale(1 1.1)" class="tl" text-anchor="end">10<tspan class="sp" dx="0.7" dy="-5.36">-4</tspan></text>
<text transform="translate(43.4 261.6) scale(1 1.1)" class="tl" text-anchor="middle">10<tspan class="sp" dx="0.7" dy="-6">-1</tspan></text>
<text transform="translate(96.75 261.6) scale(1 1.1)" class="tl" text-anchor="middle">10<tspan class="sp" dx="0.7" dy="-6">0</tspan></text>
<text transform="translate(150.1 261.6) scale(1 1.1)" class="tl" text-anchor="middle">10<tspan class="sp" dx="0.7" dy="-6">1</tspan></text>
<text transform="translate(203.45 261.6) scale(1 1.1)" class="tl" text-anchor="middle">10<tspan class="sp" dx="0.7" dy="-6">2</tspan></text>
<text transform="translate(256.8 261.6) scale(1 1.1)" class="tl" text-anchor="middle">10<tspan class="sp" dx="0.7" dy="-6">3</tspan></text>
<text transform="translate(294.9 240.29) scale(1 1.1)" class="tl" text-anchor="end">10<tspan class="sp" dx="0.7" dy="-5.36">-6</tspan></text>
<text transform="translate(294.9 205.37) scale(1 1.1)" class="tl" text-anchor="end">10<tspan class="sp" dx="0.7" dy="-5.36">-5</tspan></text>
<text transform="translate(294.9 170.46) scale(1 1.1)" class="tl" text-anchor="end">10<tspan class="sp" dx="0.7" dy="-5.36">-4</tspan></text>
<text transform="translate(299.9 261.6) scale(1 1.1)" class="tl" text-anchor="middle">10<tspan class="sp" dx="0.7" dy="-6">-1</tspan></text>
<text transform="translate(353.25 261.6) scale(1 1.1)" class="tl" text-anchor="middle">10<tspan class="sp" dx="0.7" dy="-6">0</tspan></text>
<text transform="translate(406.6 261.6) scale(1 1.1)" class="tl" text-anchor="middle">10<tspan class="sp" dx="0.7" dy="-6">1</tspan></text>
<text transform="translate(459.95 261.6) scale(1 1.1)" class="tl" text-anchor="middle">10<tspan class="sp" dx="0.7" dy="-6">2</tspan></text>
<text transform="translate(513.3 261.6) scale(1 1.1)" class="tl" text-anchor="middle">10<tspan class="sp" dx="0.7" dy="-6">3</tspan></text>
<text transform="translate(38.4 354.43) scale(1 1.1)" class="tl" text-anchor="end">10<tspan class="sp" dx="0.7" dy="-5.36">-6</tspan></text>
<text transform="translate(38.4 322.1) scale(1 1.1)" class="tl" text-anchor="end">10<tspan class="sp" dx="0.7" dy="-5.36">-5</tspan></text>
<text transform="translate(38.4 289.77) scale(1 1.1)" class="tl" text-anchor="end">10<tspan class="sp" dx="0.7" dy="-5.36">-4</tspan></text>
<text transform="translate(43.4 378.1) scale(1 1.1)" class="tl" text-anchor="middle">10<tspan class="sp" dx="0.7" dy="-6">-1</tspan></text>
<text transform="translate(96.75 378.1) scale(1 1.1)" class="tl" text-anchor="middle">10<tspan class="sp" dx="0.7" dy="-6">0</tspan></text>
<text transform="translate(150.1 378.1) scale(1 1.1)" class="tl" text-anchor="middle">10<tspan class="sp" dx="0.7" dy="-6">1</tspan></text>
<text transform="translate(203.45 378.1) scale(1 1.1)" class="tl" text-anchor="middle">10<tspan class="sp" dx="0.7" dy="-6">2</tspan></text>
<text transform="translate(256.8 378.1) scale(1 1.1)" class="tl" text-anchor="middle">10<tspan class="sp" dx="0.7" dy="-6">3</tspan></text>
<text transform="translate(294.9 360.13) scale(1 1.1)" class="tl" text-anchor="end">10<tspan class="sp" dx="0.7" dy="-5.36">-6</tspan></text>
<text transform="translate(294.9 327.79) scale(1 1.1)" class="tl" text-anchor="end">10<tspan class="sp" dx="0.7" dy="-5.36">-5</tspan></text>
<text transform="translate(294.9 295.46) scale(1 1.1)" class="tl" text-anchor="end">10<tspan class="sp" dx="0.7" dy="-5.36">-4</tspan></text>
<text transform="translate(299.9 378.1) scale(1 1.1)" class="tl" text-anchor="middle">10<tspan class="sp" dx="0.7" dy="-6">-1</tspan></text>
<text transform="translate(353.25 378.1) scale(1 1.1)" class="tl" text-anchor="middle">10<tspan class="sp" dx="0.7" dy="-6">0</tspan></text>
<text transform="translate(406.6 378.1) scale(1 1.1)" class="tl" text-anchor="middle">10<tspan class="sp" dx="0.7" dy="-6">1</tspan></text>
<text transform="translate(459.95 378.1) scale(1 1.1)" class="tl" text-anchor="middle">10<tspan class="sp" dx="0.7" dy="-6">2</tspan></text>
<text transform="translate(513.3 378.1) scale(1 1.1)" class="tl" text-anchor="middle">10<tspan class="sp" dx="0.7" dy="-6">3</tspan></text>
<rect x="49.5" y="0.2" width="98.5" height="53.8" fill="#fff" stroke="#555" stroke-width="1.4"/>
<path d="M55 8.6 L74.2 8.6" stroke="#000" stroke-width="2.0" fill="none" stroke-linejoin="round"/>
<text transform="translate(84 10) scale(1 1.1)" class="lga">1000 --> v'<tspan class="sb" dy="1.9">1</tspan><tspan dy="-1.9">=0, j'</tspan><tspan class="sb" dy="1.9">2</tspan><tspan dy="-1.9">=0</tspan></text>
<path d="M55 20.6 L74.2 20.6" stroke="#dc1c2a" stroke-width="2.0" fill="none" stroke-linejoin="round" stroke-dasharray="9.8,3.8"/>
<text transform="translate(84 22) scale(1 1.1)" class="lga">1001 --> v'<tspan class="sb" dy="1.9">1</tspan><tspan dy="-1.9">=0, j'</tspan><tspan class="sb" dy="1.9">2</tspan><tspan dy="-1.9">=1</tspan></text>
<path d="M55.2 32.8 L74.2 32.8" stroke="#35853f" stroke-width="1.6" fill="none" stroke-linejoin="round" stroke-dasharray="1.6,4.0"/>
<text transform="translate(84 34.2) scale(1 1.1)" class="lga">Flower, para-H<tspan class="sb" dy="1.9">2</tspan></text>
<path d="M55 45.2 L71.2 45.2" stroke="#3428b8" stroke-width="1.5" fill="none" stroke-linejoin="round" stroke-dasharray="1.3,2.9,7.4,2.9"/>
<text transform="translate(84 46.6) scale(1 1.1)" class="lga">Flower, ortho-H<tspan class="sb" dy="1.9">2</tspan></text>
<rect x="397.5" y="35.4" width="98.1" height="28.8" fill="#fff" stroke="#555" stroke-width="1.4"/>
<path d="M402.9 44.2 L421.7 44.2" stroke="#000" stroke-width="2.0" fill="none" stroke-linejoin="round"/>
<text transform="translate(431.5 46.2) scale(1 1.1)" class="lgb">1100 -->v'<tspan class="sb" dy="1.9">1</tspan><tspan dy="-1.9">=0, j'</tspan><tspan class="sb" dy="1.9">2</tspan><tspan dy="-1.9">=0</tspan></text>
<path d="M402.9 56.3 L421.7 56.3" stroke="#dc1c2a" stroke-width="2.0" fill="none" stroke-linejoin="round" stroke-dasharray="9.8,3.8"/>
<text transform="translate(431.5 58.3) scale(1 1.1)" class="lgb">1101 --> v'<tspan class="sb" dy="1.9">1</tspan><tspan dy="-1.9">=0, j'</tspan><tspan class="sb" dy="1.9">2</tspan><tspan dy="-1.9">=1</tspan></text>
<rect x="133.1" y="153.9" width="102.1" height="30.3" fill="#fff" stroke="#555" stroke-width="1.4"/>
<path d="M137.9 162.5 L156.7 162.5" stroke="#000" stroke-width="2.0" fill="none" stroke-linejoin="round"/>
<text transform="translate(166 163.8) scale(1 1.0)" class="lgc">1200 --> v'<tspan class="sb" dy="1.9">1</tspan><tspan dy="-1.9">=0, j'</tspan><tspan class="sb" dy="1.9">2</tspan><tspan dy="-1.9">=0</tspan></text>
<path d="M137.9 175.6 L156.7 175.6" stroke="#dc1c2a" stroke-width="2.0" fill="none" stroke-linejoin="round" stroke-dasharray="9.8,3.8"/>
<text transform="translate(166 176.9) scale(1 1.0)" class="lgc">1201 --> v'<tspan class="sb" dy="1.9">1</tspan><tspan dy="-1.9">=0, j'</tspan><tspan class="sb" dy="1.9">2</tspan><tspan dy="-1.9">=1</tspan></text>
<rect x="388.4" y="153.9" width="102" height="30.3" fill="#fff" stroke="#555" stroke-width="1.4"/>
<path d="M393.3 162.6 L412.5 162.6" stroke="#000" stroke-width="2.0" fill="none" stroke-linejoin="round"/>
<text transform="translate(421.2 163.9) scale(1 1.0)" class="lgd">1300 --> v'<tspan class="sb" dy="1.9">1</tspan><tspan dy="-1.9">=0, j'</tspan><tspan class="sb" dy="1.9">2</tspan><tspan dy="-1.9">=0</tspan></text>
<path d="M393.3 175.6 L412.5 175.6" stroke="#dc1c2a" stroke-width="2.0" fill="none" stroke-linejoin="round" stroke-dasharray="9.8,3.8"/>
<text transform="translate(421.2 176.9) scale(1 1.0)" class="lgd">1301 --> v'<tspan class="sb" dy="1.9">1</tspan><tspan dy="-1.9">=0, j'</tspan><tspan class="sb" dy="1.9">2</tspan><tspan dy="-1.9">=1</tspan></text>
<rect x="128.1" y="272.1" width="107.1" height="31.5" fill="#fff" stroke="#555" stroke-width="1.4"/>
<path d="M132.9 281 L151.7 281" stroke="#000" stroke-width="2.0" fill="none" stroke-linejoin="round"/>
<text transform="translate(161.8 282.3) scale(1 1.0)" class="lge" textLength="70.0" lengthAdjust="spacing">1400 --> v'<tspan class="sb" dy="1.9">1</tspan><tspan dy="-1.9">=0, j'</tspan><tspan class="sb" dy="1.9">2</tspan><tspan dy="-1.9">=0</tspan></text>
<path d="M132.9 294.4 L151.7 294.4" stroke="#dc1c2a" stroke-width="2.0" fill="none" stroke-linejoin="round" stroke-dasharray="9.8,3.8"/>
<text transform="translate(161.8 295.7) scale(1 1.0)" class="lge" textLength="70.0" lengthAdjust="spacing">1401 --> v'<tspan class="sb" dy="1.9">1</tspan><tspan dy="-1.9">=0, j'</tspan><tspan class="sb" dy="1.9">2</tspan><tspan dy="-1.9">=1</tspan></text>
<rect x="383.9" y="272.1" width="106.5" height="31.5" fill="#fff" stroke="#555" stroke-width="1.4"/>
<path d="M388.6 281 L407.5 281" stroke="#000" stroke-width="2.0" fill="none" stroke-linejoin="round"/>
<text transform="translate(416.8 282.3) scale(1 1.0)" class="lgf" textLength="70.5" lengthAdjust="spacing">1500 --> v'<tspan class="sb" dy="1.9">1</tspan><tspan dy="-1.9">=0, j'</tspan><tspan class="sb" dy="1.9">2</tspan><tspan dy="-1.9">=0</tspan></text>
<path d="M388.6 294.4 L407.5 294.4" stroke="#dc1c2a" stroke-width="2.0" fill="none" stroke-linejoin="round" stroke-dasharray="9.8,3.8"/>
<text transform="translate(416.8 295.7) scale(1 1.0)" class="lgf" textLength="70.5" lengthAdjust="spacing">1501 --> v'<tspan class="sb" dy="1.9">1</tspan><tspan dy="-1.9">=0, j'</tspan><tspan class="sb" dy="1.9">2</tspan><tspan dy="-1.9">=1</tspan></text>
<text transform="translate(59.2 110.8) scale(1 1.13)" class="jl">j<tspan class="jsb" dx="0.6" dy="3.4">1</tspan><tspan dx="0.3" dy="-3.4">=0</tspan></text>
<text transform="translate(329.1 111.5) scale(1 1.13)" class="jl">j<tspan class="jsb" dx="0.6" dy="3.4">1</tspan><tspan dx="0.3" dy="-3.4">=1</tspan></text>
<text transform="translate(68.2 173) scale(1 1.13)" class="jl">j<tspan class="jsb" dx="0.6" dy="3.4">1</tspan><tspan dx="0.3" dy="-3.4">=2</tspan></text>
<text transform="translate(321.8 173.6) scale(1 1.13)" class="jl">j<tspan class="jsb" dx="0.6" dy="3.4">1</tspan><tspan dx="0.3" dy="-3.4">=3</tspan></text>
<text transform="translate(67.9 293.6) scale(1 1.13)" class="jl">j<tspan class="jsb" dx="0.6" dy="3.4">1</tspan><tspan dx="0.3" dy="-3.4">=4</tspan></text>
<text transform="translate(321.8 294.2) scale(1 1.13)" class="jl">j<tspan class="jsb" dx="0.6" dy="3.4">1</tspan><tspan dx="0.3" dy="-3.4">=5</tspan></text>
<text transform="translate(233.8 118) scale(1 1.1)" class="tg">(a)</text>
<text transform="translate(487.6 119.4) scale(1 1.1)" class="tg">(b)</text>
<text transform="translate(231.6 235.8) scale(1 1.1)" class="tg">(c)</text>
<text transform="translate(488.8 232.6) scale(1 1.1)" class="tg">(d)</text>
<text transform="translate(229 349.8) scale(1 1.1)" class="tg">(e)</text>
<text transform="translate(489.7 348.2) scale(1 1.1)" class="tg">(f)</text>
<text transform="translate(88 397.3) scale(1 1.1)" class="xt">Collision energy (cm<tspan class="xsp" dx="0.8" dy="-6.4">-1</tspan><tspan dx="1.2" dy="6.4">)</tspan></text>
<text transform="translate(343.6 397.3) scale(1 1.1)" class="xt">Collision energy (cm<tspan class="xsp" dx="0.8" dy="-6.4">-1</tspan><tspan dx="1.2" dy="6.4">)</tspan></text>
<text transform="translate(14.2 260.2) rotate(-90) scale(1.0 1)" class="yt">Cross section (10<tspan class="ysp" dy="-6.6">-16</tspan><tspan dx="1.5" dy="6.6">cm</tspan><tspan class="ysp" dy="-6.6">2</tspan><tspan dx="0.8" dy="6.6">)</tspan></text>
</g>
</svg>
</body></html>
